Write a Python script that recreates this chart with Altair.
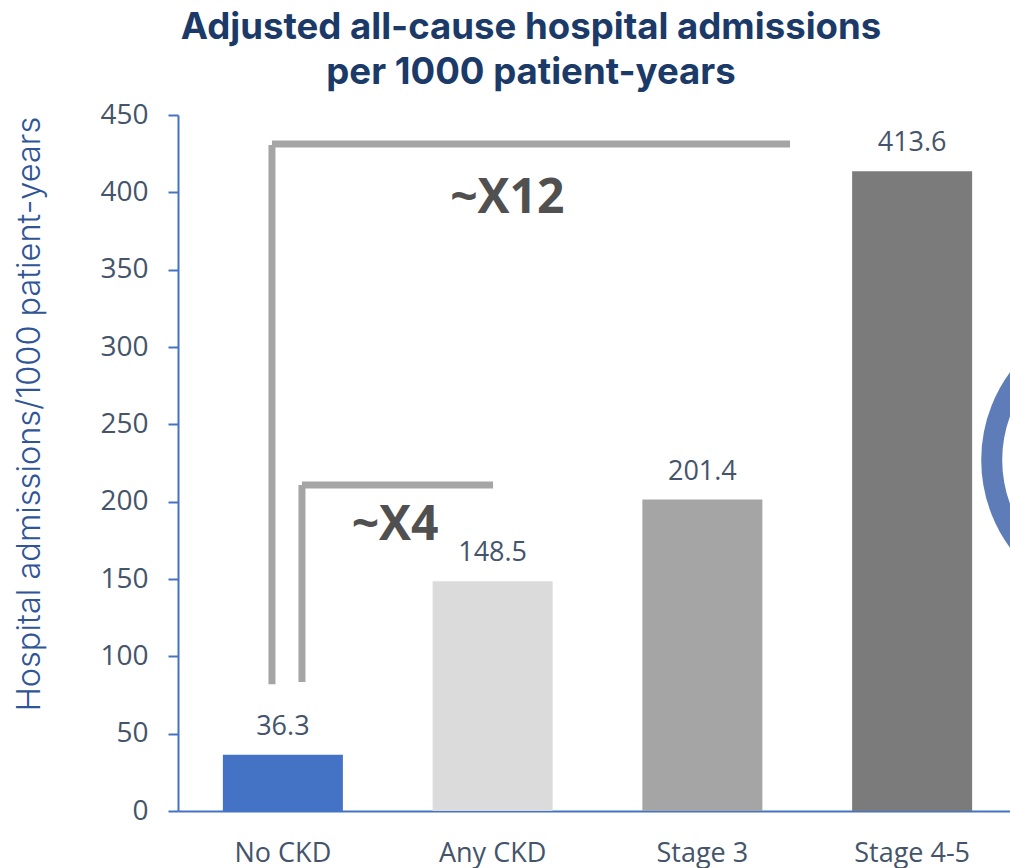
import altair as alt
import pandas as pd

# Bars
categories = ["No CKD", "Any CKD", "Stage 3", "Stage 4-5"]
admissions = [36.3, 148.5, 201.4, 413.6]
bar_colors = ["#4472C4", "#DBDBDB", "#A5A5A5", "#7B7B7B"]

# Bracket segments, x in category-slot units and y in admissions
seg_x = [0.448, 0.448, 0.591, 0.591]
seg_x2 = [0.448, 2.918, 0.591, 1.502]
seg_y = [82.0, 431.3, 83.4, 210.8]
seg_y2 = [430.6, 431.3, 210.8, 210.8]

# Fold-change callouts
callout_text = ["~X12", "~X4"]
callout_x = [1.57, 1.035]
callout_y = [395.7, 184]

# Ring running off the right-hand edge
ring_x = [4.535]
ring_y = [227]

AXIS_BLUE = "#4472C4"
TEXT_SLATE = "#44546A"
LABEL_FONT = "Open Sans"
HEADING_FONT = "Inter"

bars_df = pd.DataFrame({"category": categories, "value": admissions, "color": bar_colors})
seg_df = pd.DataFrame({"x": seg_x, "x2": seg_x2, "y": seg_y, "y2": seg_y2})
callout_df = pd.DataFrame({"label": callout_text, "x": callout_x, "y": callout_y})
ring_df = pd.DataFrame({"x": ring_x, "y": ring_y})

band_x = alt.X(
    "category:N",
    sort=categories,
    scale=alt.Scale(domain=categories, range=[0, 839], paddingInner=0.428, paddingOuter=0.214),
    axis=alt.Axis(
        title=None,
        labelAngle=0,
        labelFont=LABEL_FONT,
        labelFontSize=27,
        labelColor=TEXT_SLATE,
        labelPadding=29,
        ticks=False,
        domainColor=AXIS_BLUE,
        domainWidth=2,
        grid=False,
    ),
)
y_axis = alt.Axis(
    title="Hospital admissions/1000 patient-years",
    titleFont=HEADING_FONT,
    titleFontSize=32.5,
    titleFontWeight=300,
    titleColor="#2F5597",
    titleX=-132,
    titleY=298.5,
    values=list(range(0, 451, 50)),
    labelFont=LABEL_FONT,
    labelFontSize=28,
    labelColor=TEXT_SLATE,
    labelPadding=20,
    tickColor=AXIS_BLUE,
    tickWidth=2,
    tickSize=10,
    domainColor=AXIS_BLUE,
    domainWidth=2,
    grid=False,
)
y_scale = alt.Scale(domain=[0, 450], nice=False)

bars = alt.Chart(bars_df).mark_bar(size=120).encode(
    x=band_x,
    y=alt.Y("value:Q", scale=y_scale, axis=y_axis),
    color=alt.Color("color:N", scale=None),
)
value_labels = alt.Chart(bars_df).mark_text(
    baseline="bottom", dy=-14, font=LABEL_FONT, fontSize=27, color=TEXT_SLATE
).encode(
    x=alt.X("category:N", sort=categories),
    y="value:Q",
    text=alt.Text("value:Q", format=".1f"),
)

slot_scale = alt.Scale(domain=[0, 4], range=[0, 839], nice=False, zero=False)

brackets = alt.Chart(seg_df).mark_rule(color="#A5A5A5", strokeWidth=7, strokeCap="butt").encode(
    x=alt.X("x:Q", scale=slot_scale, axis=None),
    x2="x2:Q",
    y=alt.Y("y:Q", scale=y_scale, axis=y_axis),
    y2="y2:Q",
)
callouts = alt.Chart(callout_df).mark_text(
    font=LABEL_FONT, fontWeight="bold", fontSize=48, color="#505050"
).encode(
    x=alt.X("x:Q", scale=slot_scale, axis=None),
    y=alt.Y("y:Q", scale=y_scale, axis=y_axis),
    text="label:N",
)
ring = alt.Chart(ring_df).mark_point(
    shape="circle", filled=False, stroke="#5E7DB8", strokeWidth=21, size=75625, opacity=1
).encode(
    x=alt.X("x:Q", scale=slot_scale, axis=None),
    y=alt.Y("y:Q", scale=y_scale, axis=y_axis),
)

band_layer = alt.layer(bars, value_labels)
slot_layer = alt.layer(brackets, callouts, ring)

chart = (
    alt.layer(band_layer, slot_layer)
    .resolve_scale(x="independent")
    .properties(
        width=832,
        height=696,
        padding={"left": 178, "top": 115, "right": 0, "bottom": 57},
        autosize=alt.AutoSizeParams(type="none"),
        title=alt.TitleParams(
            text=["Adjusted all-cause hospital admissions", "per 1000 patient-years"],
            font=HEADING_FONT,
            fontSize=36.6,
            fontWeight="bold",
            color="#1B3A68",
            anchor="middle",
            dx=-63,
            offset=9,
            lineHeight=45,
        ),
        background="white",
    )
    .configure_view(stroke=None)
)

chart.save("out.html", embed_options={"renderer": "svg", "actions": False})
